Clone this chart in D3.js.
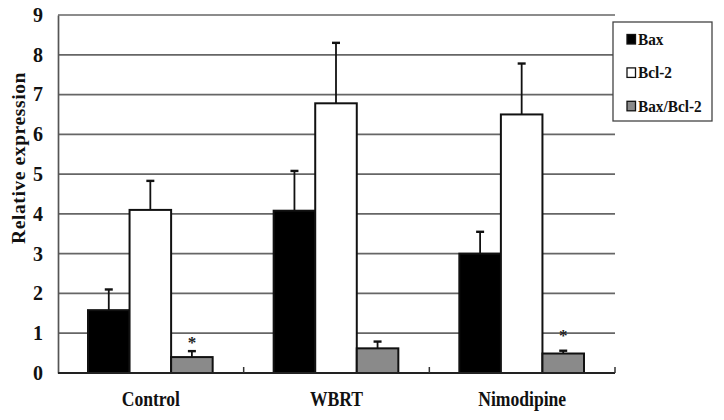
<!DOCTYPE html>
<html><head><meta charset="utf-8">
<script src="https://cdn.jsdelivr.net/npm/d3@7"></script>
<style>body{margin:0;background:#fff}svg{display:block}text{font-family:"Liberation Serif","Times New Roman",serif;font-weight:bold}</style>
</head><body><svg id="c" width="724" height="420"></svg>
<script>
const categories = ["Control", "WBRT", "Nimodipine"];
const seriesNames = ["Bax", "Bcl-2", "Bax/Bcl-2"];
const baxValues = [1.58, 4.08, 3.0];
const baxErrors = [0.52, 1.0, 0.55];
const bclValues = [4.1, 6.78, 6.5];
const bclErrors = [0.73, 1.52, 1.28];
const ratioValues = [0.4, 0.62, 0.49];
const ratioErrors = [0.15, 0.17, 0.07];
const starLevels = [0.83, null, 1.0];
const yTicks = [0,1,2,3,4,5,6,7,8,9];
const seriesColors = ["#000000", "#ffffff", "#8a8a8a"];

const svg = d3.select("#c");
const mLeft = 58, mRight = 615, mTop = 15, mBottom = 373;
const y = d3.scaleLinear().domain([0, 9]).range([mBottom, mTop]);
const x0 = d3.scaleBand().domain(categories).range([mLeft, mRight]);
const x1 = d3.scaleBand().domain(seriesNames).range([30, x0.bandwidth() - 31]);

// gridlines
svg.append("g").selectAll("line").data(yTicks.filter(d => d > 0)).join("line")
  .attr("x1", mLeft).attr("x2", mRight).attr("y1", d => y(d)).attr("y2", d => y(d))
  .attr("stroke", "#666").attr("stroke-width", 1.7);

// y axis
const yAxis = d3.axisLeft(y).tickValues(yTicks).tickSize(0).tickPadding(15).tickFormat(d3.format("d"));
const ga = svg.append("g").attr("transform", `translate(${mLeft},0)`).call(yAxis);
ga.select(".domain").attr("stroke", "#555").attr("stroke-width", 1.7);
ga.selectAll("text").attr("font-size", 20).attr("fill", "#111").attr("font-family", '"Liberation Serif",serif').attr("font-weight", "bold");

// bars
const data = categories.map((c, i) => ({c, vals: [
  {s: seriesNames[0], v: baxValues[i], e: baxErrors[i], col: seriesColors[0]},
  {s: seriesNames[1], v: bclValues[i], e: bclErrors[i], col: seriesColors[1]},
  {s: seriesNames[2], v: ratioValues[i], e: ratioErrors[i], col: seriesColors[2]}
], star: starLevels[i]}));

const g = svg.append("g").selectAll("g").data(data).join("g")
  .attr("transform", d => `translate(${x0(d.c)},0)`);

// error bars (up only)
g.selectAll("line.err").data(d => d.vals).join("line").attr("class", "err")
  .attr("x1", d => x1(d.s) + x1.bandwidth()/2).attr("x2", d => x1(d.s) + x1.bandwidth()/2)
  .attr("y1", d => y(d.v)).attr("y2", d => y(d.v + d.e))
  .attr("stroke", "#111").attr("stroke-width", 1.8);
g.selectAll("line.cap").data(d => d.vals).join("line").attr("class", "cap")
  .attr("x1", d => x1(d.s) + x1.bandwidth()/2 - 4).attr("x2", d => x1(d.s) + x1.bandwidth()/2 + 4)
  .attr("y1", d => y(d.v + d.e)).attr("y2", d => y(d.v + d.e))
  .attr("stroke", "#111").attr("stroke-width", 2.4);

g.selectAll("rect").data(d => d.vals).join("rect")
  .attr("x", d => x1(d.s)).attr("width", x1.bandwidth())
  .attr("y", d => y(d.v)).attr("height", d => y(0) - y(d.v))
  .attr("fill", d => d.col).attr("stroke", "#111").attr("stroke-width", 2);

// stars
g.filter(d => d.star != null).append("text")
  .attr("x", x1(seriesNames[2]) + x1.bandwidth()/2).attr("y", d => y(d.star) + 8)
  .attr("text-anchor", "middle").attr("font-size", 17).attr("font-weight", "normal").attr("fill", "#222")
  .text("*");

// x axis
svg.append("line").attr("x1", mLeft).attr("x2", mRight).attr("y1", mBottom).attr("y2", mBottom)
  .attr("stroke", "#222").attr("stroke-width", 2);
svg.append("g").selectAll("line").data(categories).join("line")
  .attr("x1", d => x0(d) + x0.bandwidth()).attr("x2", d => x0(d) + x0.bandwidth())
  .attr("y1", mBottom).attr("y2", mBottom - 6).attr("stroke", "#333").attr("stroke-width", 1.5);
svg.append("g").selectAll("text").data(categories).join("text")
  .attr("transform", d => `translate(${x0(d) + x0.bandwidth()/2},406) scale(0.8,1)`)
  .attr("text-anchor", "middle").attr("font-size", 22).attr("fill", "#111").text(d => d);

// y title
svg.append("text").attr("transform", "translate(25,158) rotate(-90)")
  .attr("text-anchor", "middle").attr("font-size", 19.5).attr("letter-spacing", 0.6).attr("fill", "#111")
  .text("Relative expression");

// legend
const lg = svg.append("g");
lg.append("rect").attr("x", 613).attr("y", 22).attr("width", 99).attr("height", 99)
  .attr("fill", "#fff").attr("stroke", "#444").attr("stroke-width", 1.3);
const li = lg.selectAll("g").data(seriesNames).join("g")
  .attr("transform", (d, i) => `translate(627,${45 + i * 33.4})`);
li.append("rect").attr("x", 0).attr("y", -10.5).attr("width", 8.5).attr("height", 9.5)
  .attr("fill", (d, i) => seriesColors[i]).attr("stroke", "#111").attr("stroke-width", 1.3);
li.append("text").attr("transform", "translate(11,0) scale(0.9,1)").attr("font-size", 17).attr("fill", "#111").text(d => d);
</script></body></html>
